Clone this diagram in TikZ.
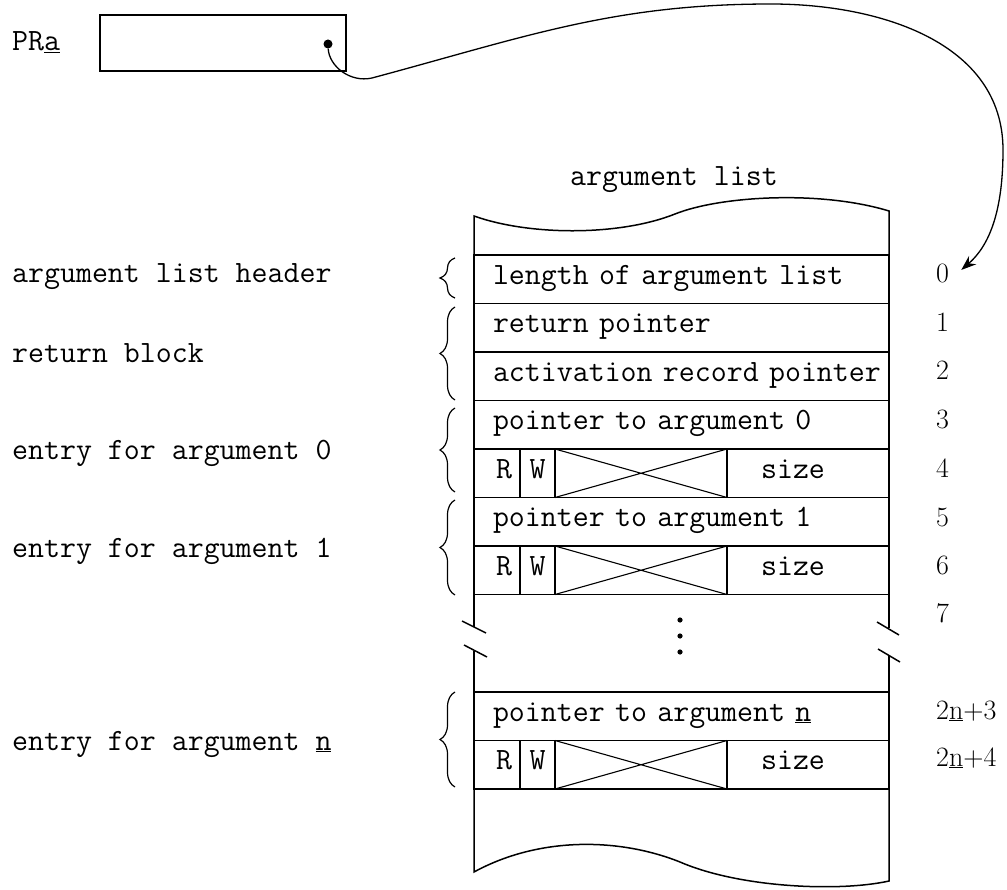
\documentclass[tikz,border=0pt]{standalone}
\usepackage{tikz}
\usetikzlibrary{positioning}
\usetikzlibrary{calc}
\usetikzlibrary{arrows.meta}
\usetikzlibrary{decorations.pathreplacing}

\tikzset{
  cell/.style={draw, line width=1.5pt, outer sep=0pt, inner xsep=0pt, inner ysep=0pt,
    minimum height=48.5pt, text height=17pt, text depth=7pt, anchor=north west},
  wide/.style={cell, inner xsep=19pt, text width=377pt, align=left},
  side/.style={line width=1.5pt},
  lbl/.style={anchor=base west, inner sep=0pt},
  idx/.style={anchor=base west, inner sep=0pt, font=\rmfamily\fontsize{28}{34}\selectfont},
  grp/.style={decorate, decoration={brace, amplitude=15pt}, line width=1.2pt},
}

\begin{document}
\begin{tikzpicture}[x=1pt, y=-1pt, font=\ttfamily\fontsize{31}{36}\selectfont]
		\useasboundingbox (0,0) rectangle (1007,890);

		% register and pointer
		\node [lbl] (pralbl) at (12,51) {PR\underline{a}};
		\node [draw, line width=1.5pt, outer sep=0pt, minimum width=246pt, minimum height=56pt] (pra) at (223,43) {};
		\node [circle, fill, inner sep=0pt, minimum size=9pt] (ptr) at (328,44) {};

		\node [anchor=base] (title) at (674,186) {argument list};

		% the list itself
		\node [wide] (hdr) at (474,255) {length of argument list};
		\node [wide, below=0pt of hdr] (ret) {return pointer};
		\node [wide, below=0pt of ret] (act) {\mbox{activation record pointer}};
		\node [wide, below=0pt of act] (p0) {pointer to argument 0};
		\node [cell, minimum width=46pt] (r0) at (p0.south west) {\hspace*{14pt}R};
		\node [cell, minimum width=35pt, right=0pt of r0] (w0) {W};
		\node [cell, minimum width=172pt, right=0pt of w0] (x0) {};
		\node [cell, minimum width=162pt, right=0pt of x0] (s0) {size\hspace*{30pt}};
		\node [wide] (p1) at (r0.south west) {pointer to argument 1};
		\node [cell, minimum width=46pt] (r1) at (p1.south west) {\hspace*{14pt}R};
		\node [cell, minimum width=35pt, right=0pt of r1] (w1) {W};
		\node [cell, minimum width=172pt, right=0pt of w1] (x1) {};
		\node [cell, minimum width=162pt, right=0pt of x1] (s1) {size\hspace*{30pt}};

		\node [wide] (pn) at (474,692) {pointer to argument \underline{n}};
		\node [cell, minimum width=46pt] (rn) at (pn.south west) {\hspace*{14pt}R};
		\node [cell, minimum width=35pt, right=0pt of rn] (wn) {W};
		\node [cell, minimum width=172pt, right=0pt of wn] (xn) {};
		\node [cell, minimum width=162pt, right=0pt of xn] (sn) {size\hspace*{30pt}};

		\draw [line width=1.1pt] (x0.north west) -- (x0.south east) (x0.south west) -- (x0.north east);
		\draw [line width=1.1pt] (x1.north west) -- (x1.south east) (x1.south west) -- (x1.north east);
		\draw [line width=1.1pt] (xn.north west) -- (xn.south east) (xn.south west) -- (xn.north east);

		% torn top and bottom, broken sides
		\draw [side] (hdr.north west) -- (474,216) .. controls (530,236) and (620,236) .. (675,214) .. controls (720,196) and (820,190) .. (889,211) -- (hdr.north east);
		\draw [side] (r1.south west) -- (474,627) (474,651) -- (pn.north west);
		\draw [side] (s1.south east) -- (889,628) (889,655) -- (pn.north east);
		\draw [side] (462,621) -- (486,633) (464,645) -- (487,657) (877,622) -- (899,635) (878,649) -- (900,662);
		\draw [side] (rn.south west) -- (474,872) .. controls (540,836) and (620,838) .. (680,862) .. controls (740,888) and (840,892) .. (889,881) -- (sn.south east);
		\foreach \y in {620,636,652} \fill (680,\y) circle (2.6pt);

		% word numbers
		\node [idx] (n0) at (936,283) {0};
		\node [idx] (n1) at (936,332) {1};
		\node [idx] (n2) at (936,380) {2};
		\node [idx] (n3) at (936,429) {3};
		\node [idx] (n4) at (936,477) {4};
		\node [idx] (n5) at (936,526) {5};
		\node [idx] (n6) at (936,574) {6};
		\node [idx] (n7) at (936,622) {7};
		\node [idx] (nn3) at (936,719) {2\underline{n}+3};
		\node [idx] (nn4) at (936,766) {2\underline{n}+4};

		% groups on the left
		\node [lbl] (lhdr) at (12,283) {argument list header};
		\node [lbl] (lret) at (12,363) {return block};
		\node [lbl] (le0) at (12,460) {entry for argument 0};
		\node [lbl] (le1) at (12,557) {entry for argument 1};
		\node [lbl] (len) at (12,750) {entry for argument \underline{n}};
		\draw [grp] (455,298) -- (455,258);
		\draw [grp] (455,400) -- (455,307);
		\draw [grp] (455,492) -- (455,408);
		\draw [grp] (455,595) -- (455,500);
		\draw [grp] (455,787) -- (455,692);

		\draw [line width=1.3pt, -{Stealth[length=15pt, width=11pt]}] (ptr) .. controls (329,66) and (350,83) .. (372,78) .. controls (525,37) and (613,4) .. (771,4) .. controls (879,4) and (1003,42) .. (1003,150) .. controls (1003,210) and (990,245) .. ([shift={(12,-4)}]n0.east);
\end{tikzpicture}
\end{document}
